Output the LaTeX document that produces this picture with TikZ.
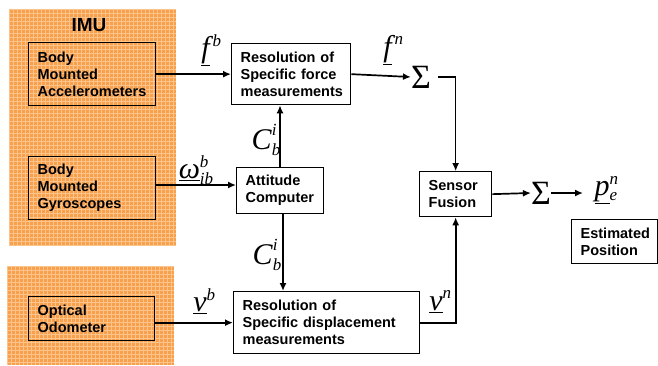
\documentclass[tikz,border=0pt]{standalone}
\usepackage{fontspec}
\setmainfont{Liberation Sans}
\newfontfamily\tnr{Liberation Serif}
\usetikzlibrary{arrows.meta}
\definecolor{imuorange}{HTML}{F8A04C}
\definecolor{imugrid}{HTML}{FBC48C}
\newcommand\sfx[1]{\fontsize{17}{17}\selectfont #1}
\newcommand\ulab[4]{{\tnr\itshape\fontsize{30}{30}\selectfont\underline{#1}\kern#4\rlap{\raisebox{0.38em}{\sfx{#2}}}\raisebox{-0.18em}{\sfx{#3}}}}
\newcommand\clab{{\tnr\itshape\fontsize{30}{30}\selectfont C\rlap{\raisebox{0.45em}{\sfx{i}}}\raisebox{-0.22em}{\sfx{b}}}}
\begin{document}
\begin{tikzpicture}[x=1pt,y=-1pt,
  box/.style={draw,line width=1.3pt,fill=white,anchor=north west,inner sep=0pt,
    font=\bfseries\fontsize{14.5}{17}\selectfont,align=left},
  obox/.style={box,fill=none},
  arr/.style={line width=1.7pt,-{Latex[length=8pt,width=7pt]}},
  ln/.style={line width=1.7pt},
  lbl/.style={inner sep=0pt},
  sig/.style={inner sep=0pt,font=\tnr\fontsize{34}{34}\selectfont}]
\useasboundingbox[fill=white] (0,0) rectangle (658,365);
% orange backgrounds
\fill[imuorange] (9,9) rectangle (176,245);
\fill[imuorange] (7,266) rectangle (174,365);
\begin{scope}
\clip (9,9) rectangle (176,245);
\foreach \i in {0,...,42} {\draw[imugrid,line width=0.8pt] (9+4*\i,9) -- (9+4*\i,245);}
\foreach \j in {0,...,59} {\draw[imugrid,line width=0.8pt] (9,9+4*\j) -- (176,9+4*\j);}
\end{scope}
\begin{scope}
\clip (7,266) rectangle (174,365);
\foreach \i in {0,...,42} {\draw[imugrid,line width=0.8pt] (7+4*\i,266) -- (7+4*\i,365);}
\foreach \j in {0,...,25} {\draw[imugrid,line width=0.8pt] (7,266+4*\j) -- (174,266+4*\j);}
\end{scope}
\node[lbl,font=\bfseries\fontsize{19}{19}\selectfont] (imu) at (89,25) {IMU};
% boxes
\node[obox,minimum width=127pt,minimum height=63pt,text width=109pt] (acc) at (28,42) {Body\\Mounted\\Accelerometers};
\node[obox,minimum width=127pt,minimum height=63pt,text width=109pt] (gyr) at (28,156) {Body\\Mounted\\Gyroscopes};
\node[obox,minimum width=126pt,minimum height=44pt,text width=108pt] (opt) at (28,296) {Optical\\Odometer};
\node[box,minimum width=119pt,minimum height=61pt,text width=101pt] (frc) at (231,43) {Resolution of\\Specific force\\measurements};
\node[box,minimum width=87pt,minimum height=46pt,text width=69pt] (att) at (236,167) {Attitude\\Computer};
\node[box,minimum width=186pt,minimum height=62pt,text width=168pt] (dsp) at (233,291) {Resolution of\\Specific displacement\\measurements};
\node[box,minimum width=72pt,minimum height=45pt,text width=54pt] (fus) at (419,171) {Sensor\\Fusion};
\node[box,minimum width=86pt,minimum height=44pt,text width=68pt] (est) at (571,219) {Estimated\\Position};
% sums
\node[sig] (s1) at (421,77) {Σ};
\node[sig] (s2) at (541,193) {Σ};
\coordinate (s1r) at (438,77);
% labels
\node[lbl] (lfb) at (207,50) {\ulab{f}{b}{}{3pt}};
\node[lbl] (lfn) at (389,50) {\ulab{f}{n}{}{3pt}};
\node[lbl] (lc1) at (266,140) {\clab};
\node[lbl] (lom) at (196,170) {{\tnr\itshape\fontsize{30}{30}\selectfont\underline{ω}\rlap{\raisebox{0.38em}{\sfx{b}}}\raisebox{-0.18em}{\sfx{ib}}}};
\node[lbl] (lc2) at (267,255) {\clab};
\node[lbl] (lvb) at (200,303) {\ulab{v}{b}{}{0pt}};
\node[lbl] (lvn) at (436,303) {\ulab{v}{n}{}{0pt}};
\node[lbl] (lpe) at (606,190) {\ulab{p}{n}{e}{0pt}};
% connectors
\draw[arr] (acc.east) -- (frc.west);
\draw[arr] (gyr.east |- 0,185) -- (att.west |- 0,185);
\draw[arr] (att.north -| 280,0) -- (frc.south -| 280,0);
\draw[arr] (att.south -| 283,0) -- (dsp.north -| 283,0);
\draw[arr] (opt.east |- dsp.west) -- (dsp.west);
\draw[arr] (frc.east) -- (s1.west);
\draw[line width=1.2pt,-{Latex[length=8pt,width=7pt]}] (s1r) -| (fus.north);
\draw[ln,-{Latex[length=8pt,width=7pt]}] (dsp.east) -| (fus.south);
\draw[arr] (fus.east) -- (s2.west);
\draw[arr] (s2.east) -- (583,193);
\end{tikzpicture}
\end{document}
